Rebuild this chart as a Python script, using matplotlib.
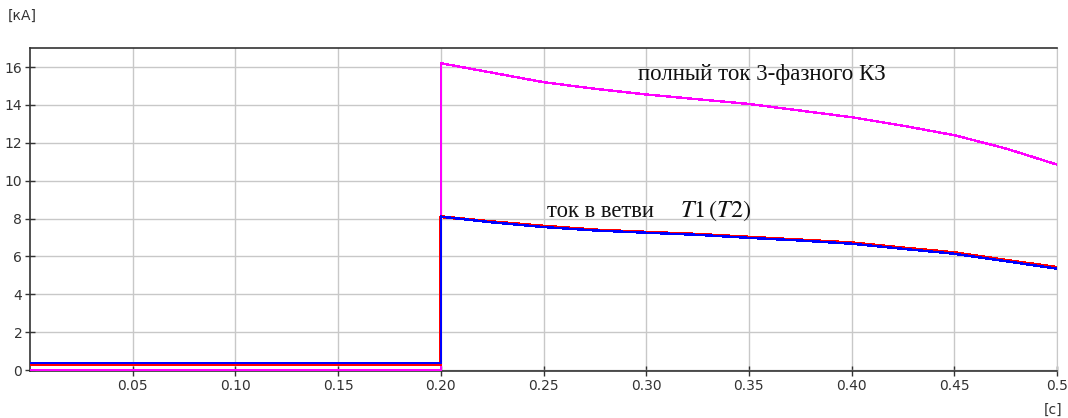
import matplotlib
matplotlib.use("Agg")
import matplotlib.pyplot as plt

# time axis, seconds (fault at 0.2 s)
time_pre = [0.0, 0.2]
time_fault = [0.2, 0.225, 0.25, 0.275, 0.30, 0.325, 0.35, 0.375, 0.40, 0.425, 0.45, 0.475, 0.50]

# currents, kA
full_pre = [0.0, 0.0]
full_fault = [16.2, 15.7, 15.2, 14.85, 14.55, 14.3, 14.05, 13.7, 13.35, 12.9, 12.4, 11.7, 10.85]

red_pre = [0.28, 0.28]
red_fault = [8.1, 7.83, 7.6, 7.4, 7.28, 7.17, 7.02, 6.87, 6.72, 6.45, 6.2, 5.8, 5.42]

blue_pre = [0.38, 0.38]
blue_fault = [8.1, 7.8, 7.55, 7.37, 7.25, 7.14, 6.98, 6.84, 6.67, 6.4, 6.14, 5.75, 5.35]

xticks = [0.05, 0.10, 0.15, 0.20, 0.25, 0.30, 0.35, 0.40, 0.45, 0.50]
xlabels = ["0.05", "0.10", "0.15", "0.20", "0.25", "0.30", "0.35", "0.40", "0.45", "0.5"]
yticks = [0, 2, 4, 6, 8, 10, 12, 14, 16]

plt.rcParams['mathtext.fontset'] = 'stix'

fig = plt.figure(figsize=(10.68, 4.18), dpi=100)
ax = fig.add_axes([0.0281, 0.1124, 0.9616, 0.7726])

def series(pre_t, pre_v, f_t, f_v):
    return pre_t + f_t, pre_v + f_v

t, v = series(time_pre, full_pre, time_fault, full_fault)
ax.plot(t, v, color="#ff00ff", lw=1.0, antialiased=False, zorder=3)
t, v = series(time_pre, red_pre, time_fault, red_fault)
ax.plot(t, v, color="#ff0000", lw=1.5, antialiased=False, zorder=4)
t, v = series(time_pre, blue_pre, time_fault, blue_fault)
ax.plot(t, v, color="#0000ff", lw=1.0, antialiased=False, zorder=5)

ax.set_xlim(0, 0.5)
ax.set_ylim(-0.05, 17)
ax.set_xticks(xticks)
ax.set_xticklabels(xlabels)
ax.set_yticks(yticks)
ax.grid(True, color="#c8c8c8", lw=1)
ax.set_axisbelow(True)

for s in ["left", "bottom", "top"]:
    ax.spines[s].set_color("#333333")
    ax.spines[s].set_linewidth(1.2)
ax.spines["right"].set_color("#c8c8c8")
ax.tick_params(direction="inout", length=7, width=1, colors="#333333",
               labelsize=10, pad=2)

ax.text(0.296, 15.3, "полный ток 3-фазного КЗ", family="Liberation Serif",
        fontsize=16.5, color="#111111", va="baseline")
ax.text(0.2515, 8.07, "ток в ветви", family="Liberation Serif",
        fontsize=16.3, color="#111111", va="baseline")
ax.text(0.3165, 8.07, r"$T1\,(T2)$", fontsize=17.5, color="#111111", va="baseline")

fig.text(8 / 1068, 1 - 16 / 418, "[кА]", fontsize=10, color="#333333", va="center")
fig.text(1062 / 1068, 1 - 410 / 418, "[с]", fontsize=10, color="#333333",
         va="center", ha="right")

fig.savefig("out.png", dpi=100)
